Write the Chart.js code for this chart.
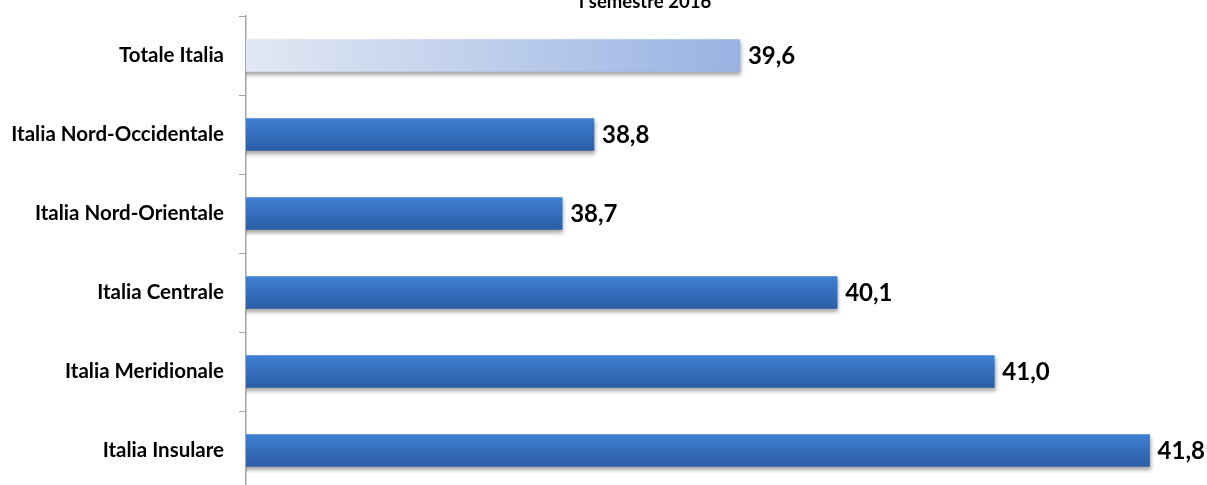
<!DOCTYPE html>
<html>
<head>
<meta charset="utf-8">
<script src="https://cdn.jsdelivr.net/npm/chart.js@4/dist/chart.umd.min.js"></script>
<style>
  html, body { margin: 0; padding: 0; background: #fff; overflow: hidden; width: 1207px; height: 485px; }
  #wrap { position: relative; width: 1207px; height: 492px; }
  canvas { display: block; width: 1207px; height: 492px; }
  #title { position: absolute; left: 545px; width: 200px; top: -10px; text-align: center;
           font: bold 18.5px Lato, sans-serif; color: #000; }
</style>
</head>
<body>
<div id="wrap">
  <canvas id="c" width="1207" height="492"></canvas>
  <div id="title">I semestre 2016</div>
</div>
<script>
const categories = ["Totale Italia", "Italia Nord-Occidentale", "Italia Nord-Orientale", "Italia Centrale", "Italia Meridionale", "Italia Insulare"];
const values = [39.61, 38.83, 38.66, 40.13, 40.97, 41.80];
const axisMin = 36.97;
const axisMax = 42.0;

function barFill(ctx) {
  const chart = ctx.chart;
  const area = chart.chartArea;
  const y = chart.scales && chart.scales.y;
  if (!area || !y) return '#3a76c6';
  const i = ctx.dataIndex;
  const cy = y.getPixelForValue(i);
  const c = chart.ctx;
  if (i === 0) {
    const g = c.createLinearGradient(area.left, 0, chart.scales.x.getPixelForValue(values[0]), 0);
    g.addColorStop(0, '#e2e8f4');
    g.addColorStop(1, '#98b3e3');
    return g;
  }
  const g = c.createLinearGradient(0, cy - 16, 0, cy + 16);
  g.addColorStop(0, '#3f80d2');
  g.addColorStop(1, '#2b5da6');
  return g;
}

const shadowPlugin = {
  id: 'shadow',
  beforeDatasetsDraw(chart) {
    const c = chart.ctx;
    c.save();
    c.shadowColor = 'rgba(0,0,0,0.35)';
    c.shadowBlur = 4;
    c.shadowOffsetX = 1;
    c.shadowOffsetY = 3;
  },
  afterDatasetsDraw(chart) {
    chart.ctx.restore();
  }
};

const labelPlugin = {
  id: 'valueLabels',
  afterDatasetsDraw(chart) {
    const c = chart.ctx;
    const meta = chart.getDatasetMeta(0);
    c.save();
    c.font = 'bold 24px Lato, sans-serif';
    c.fillStyle = '#000';
    c.textAlign = 'left';
    c.textBaseline = 'middle';
    meta.data.forEach((bar, i) => {
      const txt = (Math.round(values[i] * 10) / 10).toFixed(1).replace('.', ',');
      c.fillText(txt, bar.x + 8, bar.y + 1);
    });
    c.restore();
  }
};

new Chart(document.getElementById('c'), {
  type: 'bar',
  data: {
    labels: categories,
    datasets: [{
      data: values,
      backgroundColor: barFill,
      borderWidth: 0,
      barThickness: 32
    }]
  },
  options: {
    indexAxis: 'y',
    responsive: false,
    maintainAspectRatio: false,
    animation: false,
    layout: { padding: { top: 16, right: 20, bottom: 2, left: 0 } },
    plugins: { legend: { display: false }, tooltip: { enabled: false } },
    scales: {
      x: { display: false, min: axisMin, max: axisMax },
      y: {
        afterFit(scale) { scale.width = 246; scale.paddingTop = 0; scale.paddingBottom = 0; },
        border: { display: true, color: '#a6a6a6', width: 1.5 },
        grid: { display: true, drawOnChartArea: false, drawTicks: true, tickLength: 7, color: '#a6a6a6', offset: true },
        ticks: { color: '#000', padding: 15, font: { family: 'Lato', weight: 'bold', size: 20.5 } }
      }
    }
  },
  plugins: [shadowPlugin, labelPlugin]
});
</script>
</body>
</html>
